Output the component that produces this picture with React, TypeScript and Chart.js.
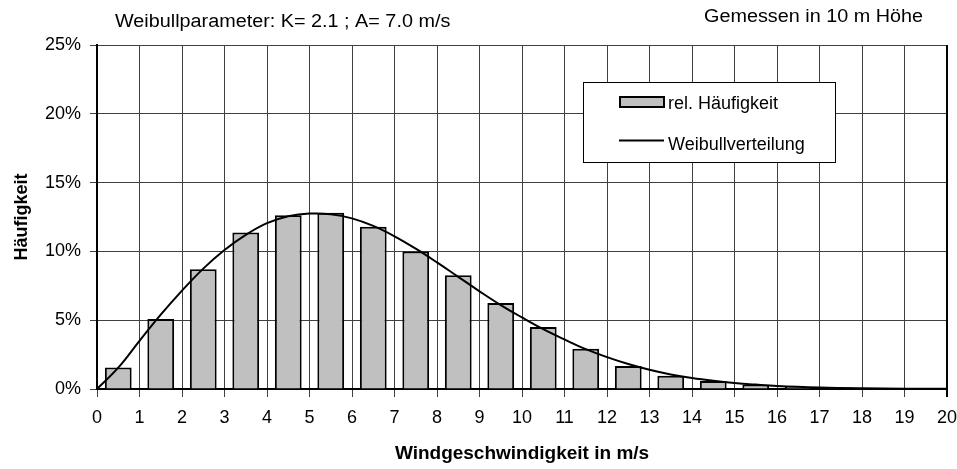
import React, { useEffect, useRef } from 'react';
import { Chart, registerables } from 'chart.js';

Chart.register(...registerables);

// ---- Data ----
const binCenters = [0.5, 1.5, 2.5, 3.5, 4.5, 5.5, 6.5, 7.5, 8.5, 9.5, 10.5, 11.5, 12.5, 13.5, 14.5, 15.5, 16.5, 17.5, 18.5, 19.5];
const relFrequency = [1.57, 5.09, 8.7, 11.38, 12.63, 12.8, 11.79, 10.0, 8.26, 6.25, 4.51, 2.92, 1.67, 0.97, 0.58, 0.31, 0.17, 0.1, 0.06, 0.04];

const weibullX = [0, 0.5, 1, 1.5, 2, 2.5, 3, 3.5, 4, 4.5, 5, 5.5, 6, 6.5, 7, 7.5, 8, 8.5, 9, 9.5, 10, 10.5, 11, 11.5, 12, 12.5, 13, 13.5, 14, 14.5, 15, 15.5, 16, 17, 18, 19, 20];
const weibullY = [0, 1.55, 3.5, 5.4, 7.15, 8.75, 10.1, 11.2, 12.05, 12.55, 12.75, 12.7, 12.4, 11.85, 11.1, 10.2, 9.2, 8.15, 7.1, 6.1, 5.2, 4.35, 3.6, 2.9, 2.32, 1.82, 1.4, 1.06, 0.8, 0.6, 0.44, 0.32, 0.22, 0.11, 0.05, 0.02, 0.01];

const xMin = 0;
const xMax = 20;
const yMin = 0;
const yMax = 25;
const yStep = 5;

const headerLeft = 'Weibullparameter: K= 2.1 ; A= 7.0 m/s';
const headerRight = 'Gemessen in 10 m Höhe';
const xTitle = 'Windgeschwindigkeit in m/s';
const yTitle = 'Häufigkeit';
const seriesLabels = ['rel. Häufigkeit', 'Weibullverteilung'];

const FONT = '"Liberation Sans", Arial, Helvetica, sans-serif';

const overlayPlugin = {
  id: 'overlay',
  afterDraw(chart: any) {
    const { ctx, chartArea: a } = chart;
    ctx.save();
    ctx.fillStyle = '#000';
    ctx.font = `18px ${FONT}`;
    ctx.textBaseline = 'middle';

    // headers
    ctx.save();
    ctx.translate(115, 22);
    ctx.scale(1.1, 1);
    ctx.textAlign = 'left';
    ctx.fillText(headerLeft, 0, 0);
    ctx.restore();

    ctx.save();
    ctx.translate(923, 17);
    ctx.scale(1.1, 1);
    ctx.textAlign = 'right';
    ctx.fillText(headerRight, 0, 0);
    ctx.restore();

    // right border of plot
    ctx.strokeStyle = '#000';
    ctx.lineWidth = 2;
    ctx.beginPath();
    ctx.moveTo(a.right, a.top);
    ctx.lineTo(a.right, a.bottom);
    ctx.stroke();

    // legend
    const lx = 583.5, ly = 82.5, lw = 252, lh = 80;
    ctx.fillStyle = '#fff';
    ctx.fillRect(lx, ly, lw, lh);
    ctx.lineWidth = 1;
    ctx.strokeStyle = '#000';
    ctx.strokeRect(lx, ly, lw, lh);

    ctx.fillStyle = '#c0c0c0';
    ctx.fillRect(620, 97, 44, 10);
    ctx.lineWidth = 2;
    ctx.strokeRect(620, 97, 44, 10);

    ctx.beginPath();
    ctx.moveTo(619, 140.5);
    ctx.lineTo(664, 140.5);
    ctx.lineWidth = 2;
    ctx.stroke();

    ctx.fillStyle = '#000';
    ctx.textAlign = 'left';
    ctx.font = `18px ${FONT}`;
    ctx.fillText(seriesLabels[0], 668, 104.5);
    ctx.fillText(seriesLabels[1], 668, 145);
    ctx.restore();
  },
};

export default function App() {
  const canvasRef = useRef<HTMLCanvasElement | null>(null);

  useEffect(() => {
    const canvas = canvasRef.current;
    if (!canvas) return;

    const chart = new Chart(canvas, {
      type: 'bar',
      data: {
        datasets: [
          {
            type: 'line',
            label: seriesLabels[1],
            data: weibullX.map((x, i) => ({ x, y: weibullY[i] })),
            borderColor: '#000',
            borderWidth: 2,
            pointRadius: 0,
            fill: false,
            tension: 0.4,
            order: 0,
          } as any,
          {
            type: 'bar',
            label: seriesLabels[0],
            data: binCenters.map((x, i) => ({ x, y: relFrequency[i] })),
            backgroundColor: '#c0c0c0',
            borderColor: '#000',
            borderWidth: 2,
            barPercentage: 0.63,
            categoryPercentage: 1,
            order: 1,
          } as any,
        ],
      },
      options: {
        responsive: false,
        animation: false,
        layout: { padding: { top: 45, right: 10, left: 0, bottom: 0 } },
        plugins: {
          legend: { display: false },
          tooltip: { enabled: false },
        },
        scales: {
          x: {
            type: 'linear',
            min: xMin,
            max: xMax,
            offset: false,
            afterFit: (s: any) => {
              s.height = 80;
              s.paddingRight = 0;
              s.paddingLeft = 0;
            },
            ticks: {
              stepSize: 1,
              color: '#000',
              font: { family: FONT, size: 18 },
              padding: 10,
              maxRotation: 0,
              autoSkip: false,
            },
            grid: {
              offset: false,
              color: (c: any) => (c.tick && c.tick.value === xMax ? '#000' : '#404040'),
              lineWidth: (c: any) => (c.tick && c.tick.value === xMax ? 2 : 1),
              tickLength: 8,
            },
            border: { display: true, color: '#000', width: 2 },
            title: {
              display: true,
              text: xTitle,
              color: '#000',
              font: { family: FONT, size: 19, weight: 'bold' },
              padding: { top: 0, bottom: 4 },
            },
          } as any,
          y: {
            type: 'linear',
            min: yMin,
            max: yMax,
            afterFit: (s: any) => { s.width = 97; },
            ticks: {
              stepSize: yStep,
              color: '#000',
              font: { family: FONT, size: 18 },
              padding: 9,
              callback: (v: any) => `${v}%`,
            },
            grid: {
              color: '#404040',
              lineWidth: 1,
              tickLength: 7,
            },
            border: { display: true, color: '#000', width: 2 },
            title: {
              display: true,
              text: yTitle,
              color: '#000',
              font: { family: FONT, size: 18, weight: 'bold' },
              padding: { top: 11, bottom: 0 },
            },
          } as any,
        },
      },
      plugins: [overlayPlugin],
    });

    return () => chart.destroy();
  }, []);

  return (
    <div style={{ position: 'absolute', left: 0, top: 0, width: 957, height: 469, background: '#fff' }}>
      <canvas ref={canvasRef} width={957} height={469} style={{ display: 'block' }} />
    </div>
  );
}
